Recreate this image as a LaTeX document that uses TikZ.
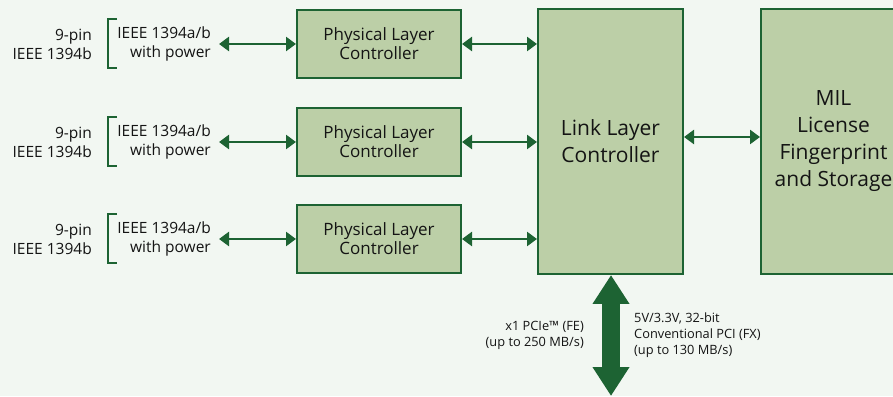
\documentclass[tikz,border=0pt]{standalone}
\usepackage{fontspec}
\setmainfont{Open Sans}
\usetikzlibrary{arrows.meta,calc}

\definecolor{bggreen}{HTML}{F2F7F2}
\definecolor{boxgreen}{HTML}{BCCFA7}
\definecolor{dkgreen}{HTML}{1D6333}
\definecolor{txtgray}{HTML}{141414}

\tikzset{
  box/.style={draw=dkgreen, fill=boxgreen, line width=2pt, align=center, text=txtgray},
  phybox/.style={box, minimum width=164pt, minimum height=68pt, font=\fontsize{17}{19}\selectfont},
  bigbox/.style={box, minimum width=145pt, minimum height=265pt, font=\fontsize{21}{27}\selectfont},
  lbl/.style={align=right, text=txtgray, inner sep=4pt, font=\fontsize{15.5}{19}\selectfont},
  note/.style={text=txtgray, inner sep=0pt, font=\fontsize{12.8}{16}\selectfont},
  biarrow/.style={draw=dkgreen, line width=2.6pt,
    {Triangle[length=10pt,width=14pt]}-{Triangle[length=10pt,width=14pt]}},
  bracket/.style={draw=dkgreen, line width=2pt}
}

\begin{document}
\begin{tikzpicture}[x=1pt, y=1pt]
  \fill[bggreen] (0, 0) rectangle (893, 396);
  \clip (0, 0) rectangle (893, 396);

  % main blocks
  \node[bigbox] (link) at (610.5, 254.5) {Link Layer\\Controller};
  \node[bigbox] (mil) at (833.5, 254.5) {MIL\\License\\Fingerprint\\and Storage};

  % the three ports
  \foreach \i/\y in {1/352, 2/254, 3/157} {
    \node[phybox] (phy\i) at (379, \y) {Physical Layer\\Controller};
    \node[lbl, anchor=east] (pin\i) at (96, \y) {9-pin\\IEEE 1394b};
    \node[lbl, anchor=east] (pwr\i) at (215, \y) {IEEE 1394a/b\\with power};
    \draw[bracket] (117, \y+24.5) -- (108, \y+24.5) -- (108, \y-24.5) -- (117, \y-24.5);
    \draw[biarrow, shorten <=4pt] (pwr\i.east) -- (phy\i.west);
    \draw[biarrow] (phy\i.east) -- (phy\i.east -| link.west);
  }

  \draw[biarrow] ([yshift=4.5pt]link.east) -- ([yshift=4.5pt]link.east -| mil.west);

  % bus to host
  \coordinate (host) at (611, 0);
  \draw[draw=dkgreen, line width=18pt,
    {Triangle[length=29pt,width=35pt]}-{Triangle[length=29pt,width=35pt]}]
    (link.south -| host) -- (host);
  \node[note, align=right, anchor=east] (pcie) at (584, 61) {x1 PCIe\texttrademark{} (FE)\\(up to 250 MB/s)};
  \node[note, align=left, anchor=west] (pci) at (634, 61) {5V/3.3V, 32-bit\\Conventional PCI (FX)\\(up to 130 MB/s)};
\end{tikzpicture}
\end{document}
